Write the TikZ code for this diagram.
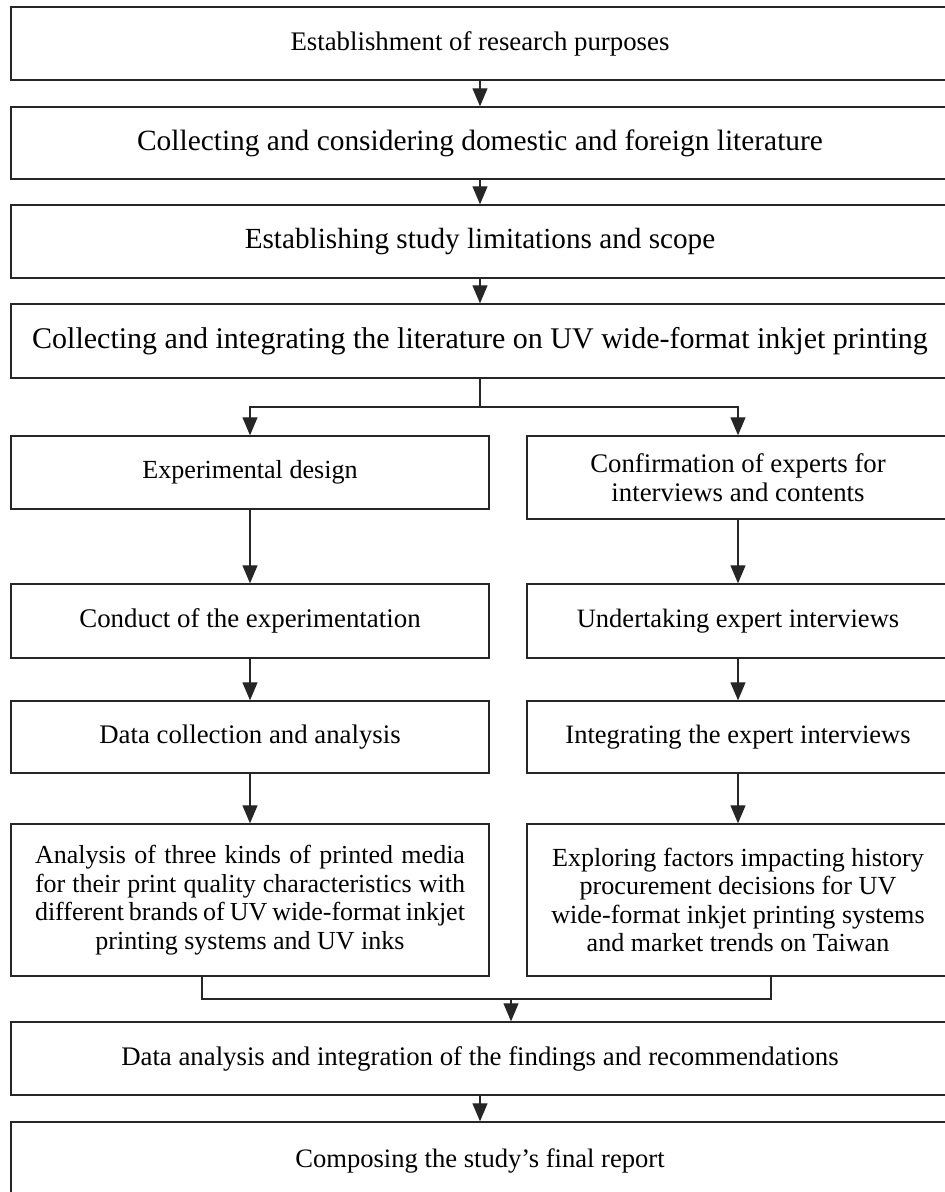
\documentclass[tikz,border=0pt]{standalone}
\usepackage{fontspec}
\setmainfont{Liberation Serif}
\usetikzlibrary{arrows.meta}
\tikzset{
  box/.style={draw=black!85, line width=1.4pt, rectangle, inner sep=0pt, align=center},
  widebox/.style={box, minimum width=938pt},
  leftbox/.style={box, minimum width=478pt},
  rightbox/.style={box, minimum width=422pt},
  link/.style={draw=black!85, line width=1.3pt},
  flow/.style={link, -{Triangle[length=18pt,width=15pt]}}
}
\newcommand{\fs}[1]{\fontsize{#1}{28.5}\selectfont}
\begin{document}
\begin{tikzpicture}[x=1pt,y=1pt]
    \useasboundingbox (0,0) rectangle (945,-1192);
    \clip (0,0) rectangle (945,-1192);
    \node[widebox, minimum height=73pt, font=\fs{26.8}] (purpose) at (480,-43.5) {Establishment of research purposes};
    \node[widebox, minimum height=72pt, font=\fs{29.4}] (collect) at (480,-143) {Collecting and considering domestic and foreign literature};
    \node[widebox, minimum height=73pt, font=\fs{29.2}] (scope) at (480,-241.5) {Establishing study limitations and scope};
    \node[widebox, minimum height=74pt, font=\fs{30}] (uvlit) at (480,-341) {Collecting and integrating the literature on UV wide-format inkjet printing};
    \node[leftbox, minimum height=73pt, font=\fs{26.1}] (design) at (250,-472.5) {Experimental design};
    \node[rightbox, minimum height=83pt, font=\fs{26.8}] (experts) at (738,-477.5) {Confirmation of experts for\\interviews and contents};
    \node[leftbox, minimum height=74pt, font=\fs{26.9}] (conduct) at (250,-621) {Conduct of the experimentation};
    \node[rightbox, minimum height=74pt, font=\fs{26.5}] (interview) at (738,-621) {Undertaking expert interviews};
    \node[leftbox, minimum height=72pt, font=\fs{26.8}] (datacoll) at (250,-737) {Data collection and analysis};
    \node[rightbox, minimum height=72pt, font=\fs{26.5}] (integrate) at (738,-737) {Integrating the expert interviews};
    \node[leftbox, minimum height=152pt, font=\fs{26}, text width=430pt, align=justify] (media) at (250,-900) {Analysis of three kinds of printed media\linebreak for their print quality characteristics with\linebreak different brands of UV wide-format inkjet\linebreak\hspace*{\fill}printing systems and UV inks\hspace*{\fill}\mbox{}};
    \node[rightbox, minimum height=152pt, font=\fs{26.1}] (factors) at (738,-900) {Exploring factors impacting history\\procurement decisions for UV\\wide-format inkjet printing systems\\and market trends on Taiwan};
    \node[widebox, minimum height=73pt, font=\fs{26.8}] (findings) at (480,-1058.5) {Data analysis and integration of the findings and recommendations};
    \node[widebox, minimum height=78pt, font=\fs{26.6}] (report) at (480,-1161) {Composing the study's final report};
    \coordinate (split) at (480,-407);
    \coordinate (mergel) at (202,-999);
    \coordinate (merger) at (771,-999);
    \coordinate (merge) at (511,-999);
    \draw[flow] (purpose) -- (collect);
    \draw[flow] (collect) -- (scope);
    \draw[flow] (scope) -- (uvlit);
    \draw[link] (uvlit) -- (split);
    \draw[flow] (split) -| (design);
    \draw[flow] (split) -| (experts);
    \draw[flow] (design) -- (conduct);
    \draw[flow] (experts) -- (interview);
    \draw[flow] (conduct) -- (datacoll);
    \draw[flow] (interview) -- (integrate);
    \draw[flow] (datacoll) -- (media);
    \draw[flow] (integrate) -- (factors);
    \draw[link] (media.south -| mergel) -- (mergel) -- (merger) -- (factors.south -| merger);
    \draw[flow] (merge) -- (findings.north -| merge);
    \draw[flow] (findings) -- (report);
\end{tikzpicture}
\end{document}
